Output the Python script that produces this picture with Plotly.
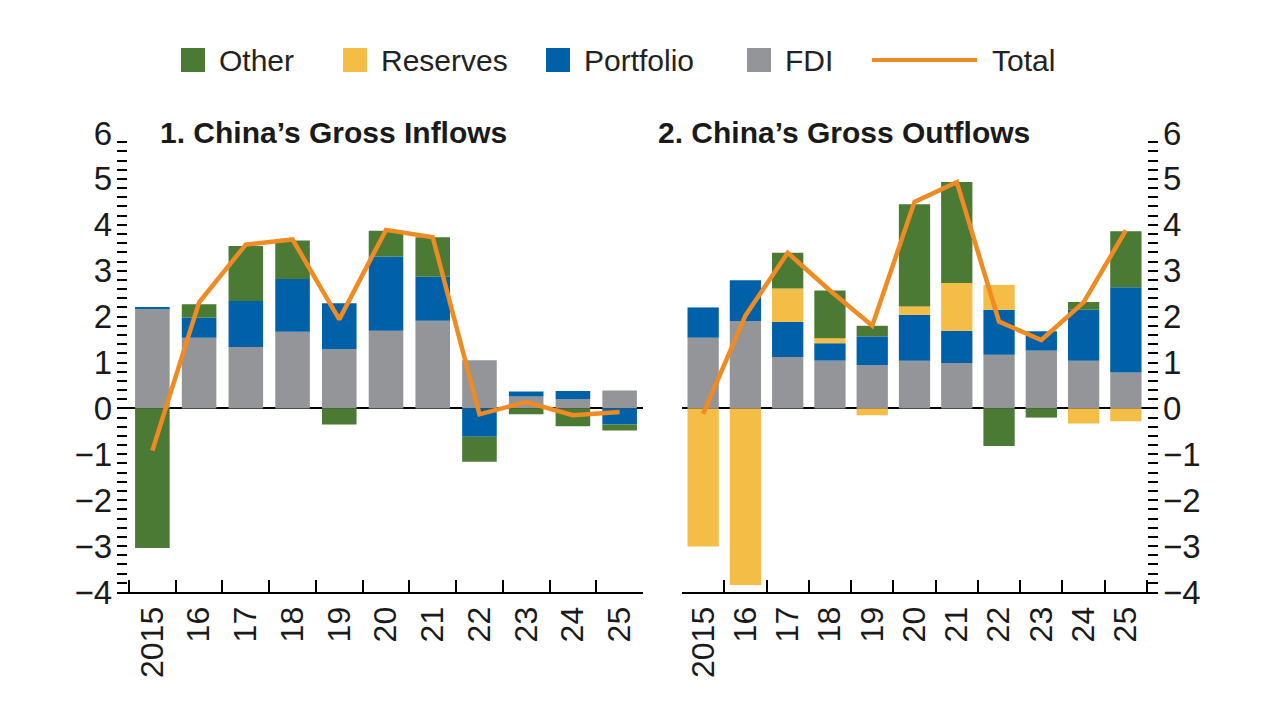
import plotly.graph_objects as go

years = ["2015", "16", "17", "18", "19", "20", "21", "22", "23", "24", "25"]

# Inflows (left panel)
in_fdi = [2.16, 1.54, 1.34, 1.67, 1.29, 1.69, 1.91, 1.05, 0.26, 0.20, 0.39]
in_portfolio = [0.05, 0.44, 1.00, 1.15, 1.00, 1.62, 0.96, -0.62, 0.11, 0.18, -0.35]
in_other = [-3.04, 0.29, 1.20, 0.84, -0.35, 0.56, 0.86, -0.54, -0.13, -0.39, -0.13]
in_total = [-0.92, 2.31, 3.57, 3.68, 1.94, 3.89, 3.73, -0.13, 0.14, -0.15, -0.08]

# Outflows (right panel)
out_fdi = [1.54, 1.90, 1.12, 1.04, 0.94, 1.04, 0.99, 1.17, 1.26, 1.04, 0.78]
out_portfolio = [0.66, 0.89, 0.76, 0.38, 0.63, 1.00, 0.70, 0.98, 0.42, 1.11, 1.86]
out_reserves = [-3.01, -3.85, 0.73, 0.11, -0.15, 0.18, 1.04, 0.54, 0.0, -0.33, -0.28]
out_other = [0.0, 0.0, 0.78, 1.04, 0.23, 2.23, 2.20, -0.82, -0.20, 0.17, 1.22]
out_total = [-0.12, 2.02, 3.39, 2.57, 1.80, 4.50, 4.93, 1.89, 1.49, 2.31, 3.88]

GREEN = "#4a7a34"
YELLOW = "#f4bd45"
BLUE = "#0060a8"
GREY = "#939598"
ORANGE = "#f08a22"
FONT = "Liberation Sans, Arial, sans-serif"

fig = go.Figure()

# left panel: FDI, Portfolio, Other stacked
for vals, col in [(in_fdi, GREY), (in_portfolio, BLUE), (in_other, GREEN)]:
    fig.add_trace(go.Bar(x=years, y=vals, marker_color=col, marker_line_width=0,
                         xaxis="x", yaxis="y", showlegend=False))
fig.add_trace(go.Scatter(x=years, y=in_total, mode="lines", line=dict(color=ORANGE, width=4.5),
                         xaxis="x", yaxis="y", showlegend=False))

# right panel
for vals, col in [(out_fdi, GREY), (out_portfolio, BLUE), (out_reserves, YELLOW), (out_other, GREEN)]:
    fig.add_trace(go.Bar(x=years, y=vals, marker_color=col, marker_line_width=0,
                         xaxis="x2", yaxis="y2", showlegend=False))
fig.add_trace(go.Scatter(x=years, y=out_total, mode="lines", line=dict(color=ORANGE, width=4.5),
                         xaxis="x2", yaxis="y2", showlegend=False))

xcommon = dict(type="category", showline=True, linecolor="black", linewidth=2,
               tickmode="array", tickvals=years, ticktext=years,
               ticks="inside", tickson="boundaries", ticklen=12, tickwidth=2, tickcolor="black",
               tickangle=-90, tickfont=dict(family=FONT, size=32, color="#1a1a1a"),
               showgrid=False, zeroline=False, fixedrange=True, automargin=False)
ycommon = dict(range=[-4, 6], dtick=1, ticks="inside", ticklen=10, tickwidth=1.8, tickcolor="black",
               minor=dict(dtick=0.2, ticks="inside", ticklen=10, tickwidth=1.8, tickcolor="black"),
               showgrid=False, showline=False, zeroline=True, zerolinecolor="black", zerolinewidth=1.5,
               ticklabelstandoff=4,
               tickfont=dict(family=FONT, size=33, color="#1a1a1a"), fixedrange=True, automargin=False)

fig.update_layout(
    width=1280, height=720,
    margin=dict(l=0, r=0, t=0, b=0),
    paper_bgcolor="white", plot_bgcolor="white",
    barmode="relative", bargap=0.26,
    xaxis=dict(domain=[117 / 1280, 643 / 1280], range=[-0.757, 10.5], anchor="y", **xcommon),
    yaxis=dict(domain=[128 / 720, 587 / 720], anchor="x", side="left", **ycommon),
    xaxis2=dict(domain=[682 / 1280, 1158 / 1280], range=[-0.5, 10.76], anchor="y2", **xcommon),
    yaxis2=dict(domain=[128 / 720, 587 / 720], anchor="x2", side="right", **ycommon),
)

# panel titles
fig.add_annotation(text="<b>1. China’s Gross Inflows</b>", x=333 / 1280, y=1 - 132 / 720,
                   xref="paper", yref="paper", xanchor="center", yanchor="middle", showarrow=False,
                   font=dict(family=FONT, size=30, color="#1a1a1a"))
fig.add_annotation(text="<b>2. China’s Gross Outflows</b>", x=844 / 1280, y=1 - 132 / 720,
                   xref="paper", yref="paper", xanchor="center", yanchor="middle", showarrow=False,
                   font=dict(family=FONT, size=30, color="#1a1a1a"))

# legend drawn by hand
legend_items = [("Other", GREEN, 181), ("Reserves", YELLOW, 343), ("Portfolio", BLUE, 546), ("FDI", GREY, 747)]
for name, col, x0 in legend_items:
    fig.add_shape(type="rect", xref="paper", yref="paper",
                  x0=x0 / 1280, x1=(x0 + 24) / 1280, y0=1 - 72 / 720, y1=1 - 48 / 720,
                  fillcolor=col, line_width=0)
    fig.add_annotation(text=name, x=(x0 + 36) / 1280, y=1 - 60 / 720, xref="paper", yref="paper",
                       xanchor="left", yanchor="middle", showarrow=False,
                       font=dict(family=FONT, size=30, color="#222"))
fig.add_shape(type="line", xref="paper", yref="paper", x0=872 / 1280, x1=977 / 1280,
              y0=1 - 60 / 720, y1=1 - 60 / 720, line=dict(color=ORANGE, width=4))
fig.add_annotation(text="Total", x=990 / 1280, y=1 - 60 / 720, xref="paper", yref="paper",
                   xanchor="left", yanchor="middle", showarrow=False,
                   font=dict(family=FONT, size=30, color="#222"))

# page has a default body margin; drop it so the figure sits at the window origin
fig.write_html("out.html", config={"displayModeBar": False},
               post_script="document.body.style.margin='0';")
